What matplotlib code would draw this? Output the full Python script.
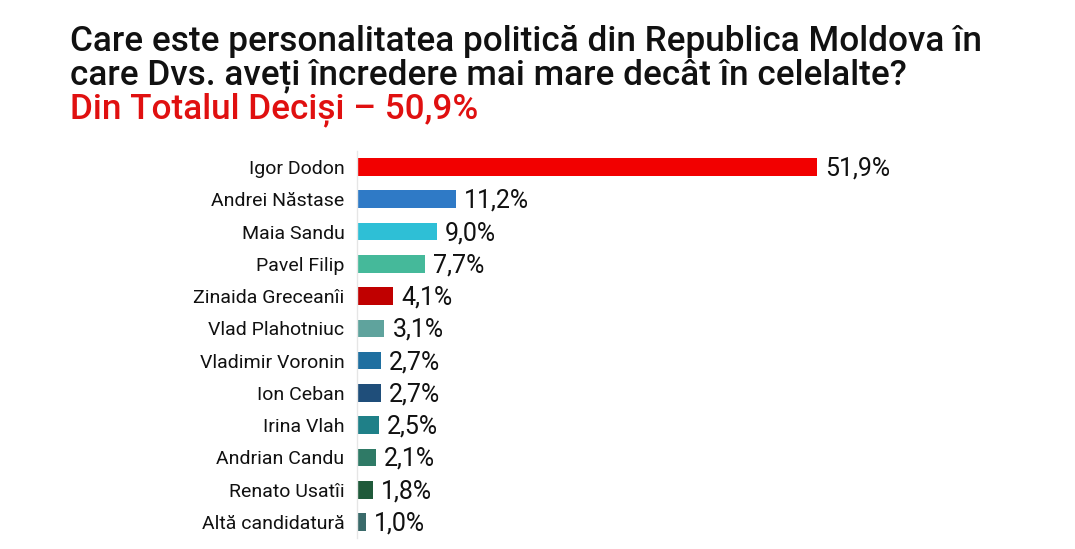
import matplotlib.pyplot as plt

plt.rcParams['font.family'] = ['Roboto', 'DejaVu Sans']

names = ['Igor Dodon', 'Andrei Năstase', 'Maia Sandu', 'Pavel Filip',
         'Zinaida Greceanîi', 'Vlad Plahotniuc', 'Vladimir Voronin',
         'Ion Ceban', 'Irina Vlah', 'Andrian Candu', 'Renato Usatîi',
         'Altă candidatură']
values = [51.9, 11.2, 9.0, 7.7, 4.1, 3.1, 2.7, 2.7, 2.5, 2.1, 1.8, 1.0]
colors = ['#f20000', '#2f7ac6', '#2ebfd6', '#45b99a', '#c00000', '#5fa39d',
          '#1f6fa0', '#1f4e7a', '#1f8088', '#2f7a66', '#1f5a3a', '#3a6a6a']

fig = plt.figure(figsize=(10.75, 5.49), dpi=100)
ax = fig.add_axes([0.332, 0.02, 0.66, 0.705])

ypos = list(range(len(names)))
ax.barh(ypos, values, height=0.55, color=colors)
for y, v in zip(ypos, values):
    ax.text(v + 0.9, y + 0.05, f'{v:.1f}%'.replace('.', ','), va='center', ha='left',
            fontsize=18, color='#111111')

ax.set_xlim(0, 80)
ax.set_ylim(len(names) - 0.5, -0.5)
ax.set_yticks(ypos)
ax.set_yticklabels(names, fontsize=14, color='#111111')
ax.tick_params(axis='y', length=0, pad=9)
ax.set_xticks([])
for s in ['top', 'right', 'bottom']:
    ax.spines[s].set_visible(False)
ax.spines['left'].set_color('#e6e6e6')
ax.spines['left'].set_linewidth(1)

title_kw = dict(fontsize=25.3, fontweight='medium', va='baseline')
fig.text(0.065, 0.908, 'Care este personalitatea politică din Republica Moldova în',
         color='#111111', **title_kw)
fig.text(0.065, 0.846, 'care Dvs. aveți încredere mai mare decât în celelalte?',
         color='#111111', **title_kw)
fig.text(0.065, 0.784, 'Din Totalul Deciși – 50,9%', color='#e01010', **title_kw)

fig.savefig('out.png', dpi=100, facecolor='white')
